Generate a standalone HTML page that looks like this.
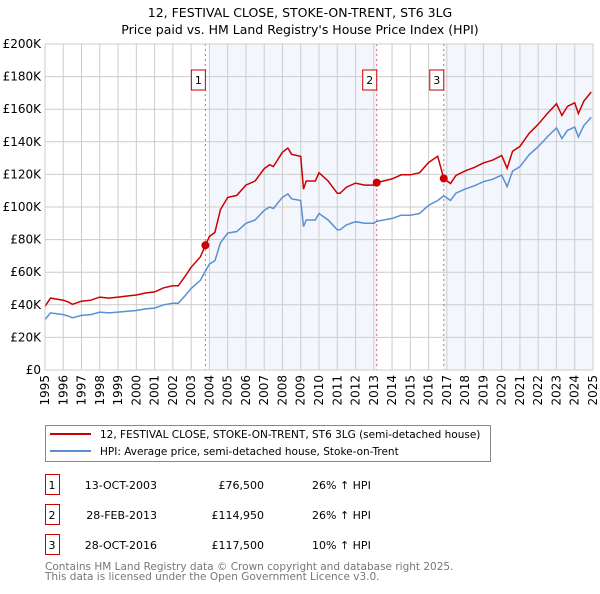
<!DOCTYPE html>
<html><head><meta charset="utf-8"><style>
body{margin:0;background:#fff;font-family:"DejaVu Sans","Liberation Sans",sans-serif;}
svg text{font-family:"DejaVu Sans","Liberation Sans",sans-serif;}
</style></head><body>
<svg id="chart" width="600" height="590" xmlns="http://www.w3.org/2000/svg">
<text x="300" y="17" text-anchor="middle" font-size="12.5">12, FESTIVAL CLOSE, STOKE-ON-TRENT, ST6 3LG</text>
<text x="300" y="34" text-anchor="middle" font-size="12.5">Price paid vs. HM Land Registry's House Price Index (HPI)</text>
<g id="plot"></g>
<g>
<rect x="45.5" y="425.5" width="445" height="36" fill="#fff" stroke="#888"/>
<line x1="50" y1="434" x2="91" y2="434" stroke="#cc0000" stroke-width="2"/>
<text x="100" y="438" font-size="10.5">12, FESTIVAL CLOSE, STOKE-ON-TRENT, ST6 3LG (semi-detached house)</text>
<line x1="50" y1="451" x2="91" y2="451" stroke="#5b8fd4" stroke-width="2"/>
<text x="100" y="455" font-size="10.5">HPI: Average price, semi-detached house, Stoke-on-Trent</text>
</g>
<g id="table"></g>
<text x="45" y="570" font-size="10.5" fill="#777">Contains HM Land Registry data © Crown copyright and database right 2025.</text>
<text x="45" y="580" font-size="10.5" fill="#777">This data is licensed under the Open Government Licence v3.0.</text>
</svg>
<script>
const hpiYears=[1995,1995.3,1996,1996.3,1996.5,1997,1997.5,1998,1998.5,1999,1999.5,2000,2000.5,2001,2001.5,2002,2002.3,2002.7,2003,2003.5,2003.78,2004,2004.3,2004.6,2005,2005.5,2006,2006.5,2007,2007.3,2007.5,2008,2008.3,2008.5,2009,2009.15,2009.3,2009.8,2010,2010.5,2011,2011.15,2011.5,2012,2012.5,2013,2013.16,2014,2014.5,2015,2015.5,2016,2016.5,2016.83,2017.2,2017.5,2018,2018.5,2019,2019.5,2020,2020.3,2020.6,2021,2021.5,2022,2022.5,2023,2023.3,2023.6,2024,2024.2,2024.5,2024.9];
const hpiValues=[31,35,34,33,32,33.5,34,35.5,35,35.5,36,36.5,37.5,38,40,41,41,46,50,55,60.7,65,67,78,84,85,90,92,98,100,99,106,108,105,104,88,92,92,96,92,86,86,89,91,90,90,91.2,93,95,95,96,101,104,106.8,104,108.5,111,113,115.5,117,119.6,112.5,122,124.7,132,137,143,148.5,142,147,149,143,150,155];
const saleYears=[2003.78,2013.16,2016.83];
const salePrices=[76.5,114.95,117.5];
const saleLabels=["1","2","3"];
const saleDates=["13-OCT-2003","28-FEB-2013","28-OCT-2016"];
const salePriceText=["£76,500","£114,950","£117,500"];
const saleDiffText=["26% ↑ HPI","26% ↑ HPI","10% ↑ HPI"];
const yTicks=[0,20,40,60,80,100,120,140,160,180,200];
const xTicks=[1995,1996,1997,1998,1999,2000,2001,2002,2003,2004,2005,2006,2007,2008,2009,2010,2011,2012,2013,2014,2015,2016,2017,2018,2019,2020,2021,2022,2023,2024,2025];

const X0=45,X1=593,Y0=370,Y1=44;
const xs=y=>X0+(y-1995)/30*(X1-X0);
const ys=v=>Y0-v/200*(Y0-Y1);
const NS="http://www.w3.org/2000/svg";
const plot=document.getElementById('plot');
function mk(tag,attrs,parent){const e=document.createElementNS(NS,tag);for(const k in attrs)e.setAttribute(k,attrs[k]);(parent||plot).appendChild(e);return e;}
function hpiAt(t){for(let i=0;i<hpiYears.length-1;i++){if(t>=hpiYears[i]&&t<=hpiYears[i+1]){const f=(t-hpiYears[i])/(hpiYears[i+1]-hpiYears[i]);return hpiValues[i]+f*(hpiValues[i+1]-hpiValues[i]);}}return hpiValues[hpiValues.length-1];}

let sh=mk('rect',{x:xs(2004),y:Y1,width:xs(saleYears[1])-xs(2004),height:Y0-Y1,fill:'#eef3fc',opacity:0.7});


sh=mk('rect',{x:xs(saleYears[2]),y:Y1,width:X1-xs(saleYears[2]),height:Y0-Y1,fill:'#eef3fc',opacity:0.7});



yTicks.forEach(v=>{
 const l=mk('line',{x1:X0,x2:X1,y1:ys(v),y2:ys(v),stroke:'#cccccc'});
 
 
 const t=mk('text',{x:X0-4,y:ys(v)+4,'text-anchor':'end','font-size':12});
 
 
 t.textContent='£'+(v===0?'0':v+'K');
});
xTicks.forEach(y=>{
 const l=mk('line',{x1:xs(y),x2:xs(y),y1:Y1,y2:Y0,stroke:'#cccccc'});
 
 
 const t=mk('text',{x:0,y:0,'font-size':12,transform:`translate(${xs(y)+4},${Y0+5}) rotate(-90)`,'text-anchor':'end'});
 
 
 t.textContent=y;
});

saleYears.forEach((y,i)=>{
 const l=mk('line',{x1:xs(y),x2:xs(y),y1:Y1,y2:Y0,stroke:'#e06666','stroke-dasharray':'2,3'});
 
 
 const r=mk('rect',{x:xs(y)-14,y:70,width:14,height:20,fill:'#fff',stroke:'#cc0000'});
 
 
 const t=mk('text',{x:xs(y)-7,y:84,'text-anchor':'middle','font-size':11});
 
 
 t.textContent=saleLabels[i];
});

let d=hpiYears.map((y,i)=>(i?'L':'M')+xs(y).toFixed(1)+','+ys(hpiValues[i]).toFixed(1)).join('');
const hl=mk('path',{d,fill:'none',stroke:'#5b8fd4','stroke-width':1.5});



function ratioAt(t){let k=0;for(let i=0;i<saleYears.length;i++)if(t>=saleYears[i])k=i;return salePrices[k]/hpiAt(saleYears[k]);}
let pts=[];
hpiYears.forEach(y=>{
 saleYears.forEach((s,i)=>{if(i>0&&y>s&&!pts.some(p=>p[0]===s)){pts.push([s,hpiAt(s)*ratioAt(s-0.0001)]);pts.push([s,salePrices[i]]);}});
 pts.push([y,hpiAt(y)*ratioAt(y)]);
});
d=pts.map((p,i)=>(i?'L':'M')+xs(p[0]).toFixed(1)+','+ys(p[1]).toFixed(1)).join('');
const pl=mk('path',{d,fill:'none',stroke:'#cc0000','stroke-width':1.5});


saleYears.forEach((y,i)=>{
 const c=mk('circle',{cx:xs(y),cy:ys(salePrices[i]),r:4,fill:'#cc0000'});
 
 
});
mk('rect',{x:X0,y:Y1,width:X1-X0,height:Y0-Y1,fill:'none',stroke:'#cccccc'});

const tb=document.getElementById('table');
saleLabels.forEach((s,i)=>{
 const yc=483+i*30;
 const r=mk('rect',{x:45.5,y:yc-8.5,width:14,height:20,fill:'#fff',stroke:'#cc0000'},tb);
 
 
 const cells=[[52,'middle',s],[157,'end',saleDates[i]],[264,'end',salePriceText[i]],[312,'start',saleDiffText[i]]];
 cells.forEach((c,j)=>{
  const t=mk('text',{x:c[0],y:yc+6,'text-anchor':c[1],'font-size':11},tb);
  
  
  t.textContent=c[2];
 });
});
</script>
</body></html>
